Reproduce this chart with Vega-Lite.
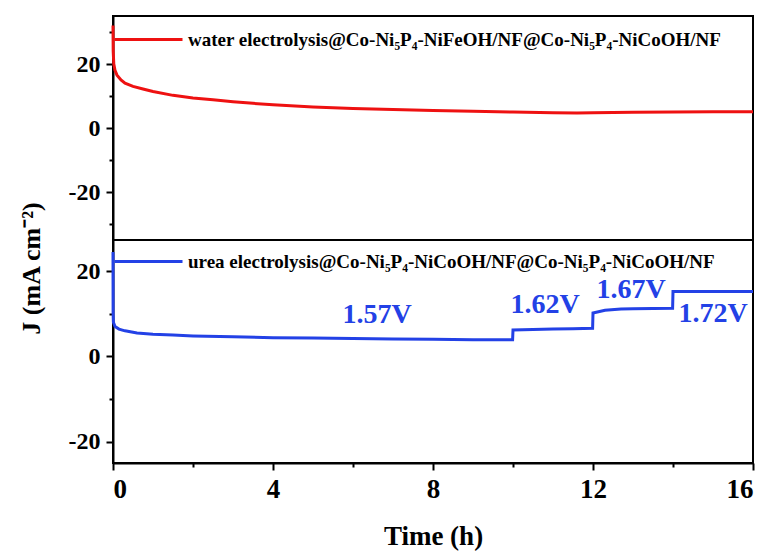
{
  "$schema": "https://vega.github.io/schema/vega-lite/v6.json",
  "background": "white",
  "padding": {"left": 16, "top": 3, "right": 8, "bottom": 5},
  "bounds": "flush",
  "spacing": 0,
  "datasets": {
    "water": [
      {"t": 0, "J": 32, "series": "water electrolysis@Co-Ni₅P₄-NiFeOH/NF@Co-Ni₅P₄-NiCoOH/NF"},
      {"t": 0.005, "J": 24, "series": "water electrolysis@Co-Ni₅P₄-NiFeOH/NF@Co-Ni₅P₄-NiCoOH/NF"},
      {"t": 0.02, "J": 20, "series": "water electrolysis@Co-Ni₅P₄-NiFeOH/NF@Co-Ni₅P₄-NiCoOH/NF"},
      {"t": 0.05, "J": 18, "series": "water electrolysis@Co-Ni₅P₄-NiFeOH/NF@Co-Ni₅P₄-NiCoOH/NF"},
      {"t": 0.1, "J": 16.5, "series": "water electrolysis@Co-Ni₅P₄-NiFeOH/NF@Co-Ni₅P₄-NiCoOH/NF"},
      {"t": 0.2, "J": 15, "series": "water electrolysis@Co-Ni₅P₄-NiFeOH/NF@Co-Ni₅P₄-NiCoOH/NF"},
      {"t": 0.3, "J": 14, "series": "water electrolysis@Co-Ni₅P₄-NiFeOH/NF@Co-Ni₅P₄-NiCoOH/NF"},
      {"t": 0.5, "J": 13, "series": "water electrolysis@Co-Ni₅P₄-NiFeOH/NF@Co-Ni₅P₄-NiCoOH/NF"},
      {"t": 0.75, "J": 12.2, "series": "water electrolysis@Co-Ni₅P₄-NiFeOH/NF@Co-Ni₅P₄-NiCoOH/NF"},
      {"t": 1.0, "J": 11.4, "series": "water electrolysis@Co-Ni₅P₄-NiFeOH/NF@Co-Ni₅P₄-NiCoOH/NF"},
      {"t": 1.5, "J": 10.2, "series": "water electrolysis@Co-Ni₅P₄-NiFeOH/NF@Co-Ni₅P₄-NiCoOH/NF"},
      {"t": 2.0, "J": 9.4, "series": "water electrolysis@Co-Ni₅P₄-NiFeOH/NF@Co-Ni₅P₄-NiCoOH/NF"},
      {"t": 2.5, "J": 8.8, "series": "water electrolysis@Co-Ni₅P₄-NiFeOH/NF@Co-Ni₅P₄-NiCoOH/NF"},
      {"t": 3.0, "J": 8.2, "series": "water electrolysis@Co-Ni₅P₄-NiFeOH/NF@Co-Ni₅P₄-NiCoOH/NF"},
      {"t": 3.5, "J": 7.7, "series": "water electrolysis@Co-Ni₅P₄-NiFeOH/NF@Co-Ni₅P₄-NiCoOH/NF"},
      {"t": 4.0, "J": 7.3, "series": "water electrolysis@Co-Ni₅P₄-NiFeOH/NF@Co-Ni₅P₄-NiCoOH/NF"},
      {"t": 5.0, "J": 6.6, "series": "water electrolysis@Co-Ni₅P₄-NiFeOH/NF@Co-Ni₅P₄-NiCoOH/NF"},
      {"t": 6.0, "J": 6.1, "series": "water electrolysis@Co-Ni₅P₄-NiFeOH/NF@Co-Ni₅P₄-NiCoOH/NF"},
      {"t": 7.0, "J": 5.8, "series": "water electrolysis@Co-Ni₅P₄-NiFeOH/NF@Co-Ni₅P₄-NiCoOH/NF"},
      {"t": 8.0, "J": 5.5, "series": "water electrolysis@Co-Ni₅P₄-NiFeOH/NF@Co-Ni₅P₄-NiCoOH/NF"},
      {"t": 9.0, "J": 5.2, "series": "water electrolysis@Co-Ni₅P₄-NiFeOH/NF@Co-Ni₅P₄-NiCoOH/NF"},
      {"t": 10.0, "J": 5.0, "series": "water electrolysis@Co-Ni₅P₄-NiFeOH/NF@Co-Ni₅P₄-NiCoOH/NF"},
      {"t": 11.0, "J": 4.8, "series": "water electrolysis@Co-Ni₅P₄-NiFeOH/NF@Co-Ni₅P₄-NiCoOH/NF"},
      {"t": 11.6, "J": 4.7, "series": "water electrolysis@Co-Ni₅P₄-NiFeOH/NF@Co-Ni₅P₄-NiCoOH/NF"},
      {"t": 12.0, "J": 4.8, "series": "water electrolysis@Co-Ni₅P₄-NiFeOH/NF@Co-Ni₅P₄-NiCoOH/NF"},
      {"t": 13.0, "J": 4.9, "series": "water electrolysis@Co-Ni₅P₄-NiFeOH/NF@Co-Ni₅P₄-NiCoOH/NF"},
      {"t": 14.0, "J": 5.0, "series": "water electrolysis@Co-Ni₅P₄-NiFeOH/NF@Co-Ni₅P₄-NiCoOH/NF"},
      {"t": 15.0, "J": 5.1, "series": "water electrolysis@Co-Ni₅P₄-NiFeOH/NF@Co-Ni₅P₄-NiCoOH/NF"},
      {"t": 16.0, "J": 5.1, "series": "water electrolysis@Co-Ni₅P₄-NiFeOH/NF@Co-Ni₅P₄-NiCoOH/NF"}
    ],
    "urea": [
      {"t": 0, "J": 24.5, "series": "urea electrolysis@Co-Ni₅P₄-NiCoOH/NF@Co-Ni₅P₄-NiCoOH/NF"},
      {"t": 0.003, "J": 10, "series": "urea electrolysis@Co-Ni₅P₄-NiCoOH/NF@Co-Ni₅P₄-NiCoOH/NF"},
      {"t": 0.01, "J": 8, "series": "urea electrolysis@Co-Ni₅P₄-NiCoOH/NF@Co-Ni₅P₄-NiCoOH/NF"},
      {"t": 0.05, "J": 7, "series": "urea electrolysis@Co-Ni₅P₄-NiCoOH/NF@Co-Ni₅P₄-NiCoOH/NF"},
      {"t": 0.15, "J": 6.4, "series": "urea electrolysis@Co-Ni₅P₄-NiCoOH/NF@Co-Ni₅P₄-NiCoOH/NF"},
      {"t": 0.3, "J": 6.0, "series": "urea electrolysis@Co-Ni₅P₄-NiCoOH/NF@Co-Ni₅P₄-NiCoOH/NF"},
      {"t": 0.6, "J": 5.5, "series": "urea electrolysis@Co-Ni₅P₄-NiCoOH/NF@Co-Ni₅P₄-NiCoOH/NF"},
      {"t": 1.0, "J": 5.2, "series": "urea electrolysis@Co-Ni₅P₄-NiCoOH/NF@Co-Ni₅P₄-NiCoOH/NF"},
      {"t": 1.5, "J": 5.0, "series": "urea electrolysis@Co-Ni₅P₄-NiCoOH/NF@Co-Ni₅P₄-NiCoOH/NF"},
      {"t": 2.0, "J": 4.8, "series": "urea electrolysis@Co-Ni₅P₄-NiCoOH/NF@Co-Ni₅P₄-NiCoOH/NF"},
      {"t": 3.0, "J": 4.6, "series": "urea electrolysis@Co-Ni₅P₄-NiCoOH/NF@Co-Ni₅P₄-NiCoOH/NF"},
      {"t": 4.0, "J": 4.4, "series": "urea electrolysis@Co-Ni₅P₄-NiCoOH/NF@Co-Ni₅P₄-NiCoOH/NF"},
      {"t": 5.0, "J": 4.3, "series": "urea electrolysis@Co-Ni₅P₄-NiCoOH/NF@Co-Ni₅P₄-NiCoOH/NF"},
      {"t": 6.0, "J": 4.2, "series": "urea electrolysis@Co-Ni₅P₄-NiCoOH/NF@Co-Ni₅P₄-NiCoOH/NF"},
      {"t": 7.0, "J": 4.1, "series": "urea electrolysis@Co-Ni₅P₄-NiCoOH/NF@Co-Ni₅P₄-NiCoOH/NF"},
      {"t": 8.0, "J": 4.0, "series": "urea electrolysis@Co-Ni₅P₄-NiCoOH/NF@Co-Ni₅P₄-NiCoOH/NF"},
      {"t": 9.0, "J": 3.9, "series": "urea electrolysis@Co-Ni₅P₄-NiCoOH/NF@Co-Ni₅P₄-NiCoOH/NF"},
      {"t": 9.99, "J": 3.9, "series": "urea electrolysis@Co-Ni₅P₄-NiCoOH/NF@Co-Ni₅P₄-NiCoOH/NF"},
      {"t": 10.0, "J": 6.2, "series": "urea electrolysis@Co-Ni₅P₄-NiCoOH/NF@Co-Ni₅P₄-NiCoOH/NF"},
      {"t": 10.5, "J": 6.3, "series": "urea electrolysis@Co-Ni₅P₄-NiCoOH/NF@Co-Ni₅P₄-NiCoOH/NF"},
      {"t": 11.0, "J": 6.4, "series": "urea electrolysis@Co-Ni₅P₄-NiCoOH/NF@Co-Ni₅P₄-NiCoOH/NF"},
      {"t": 11.5, "J": 6.5, "series": "urea electrolysis@Co-Ni₅P₄-NiCoOH/NF@Co-Ni₅P₄-NiCoOH/NF"},
      {"t": 11.99, "J": 6.6, "series": "urea electrolysis@Co-Ni₅P₄-NiCoOH/NF@Co-Ni₅P₄-NiCoOH/NF"},
      {"t": 12.0, "J": 10.2, "series": "urea electrolysis@Co-Ni₅P₄-NiCoOH/NF@Co-Ni₅P₄-NiCoOH/NF"},
      {"t": 12.3, "J": 10.8, "series": "urea electrolysis@Co-Ni₅P₄-NiCoOH/NF@Co-Ni₅P₄-NiCoOH/NF"},
      {"t": 12.7, "J": 11.1, "series": "urea electrolysis@Co-Ni₅P₄-NiCoOH/NF@Co-Ni₅P₄-NiCoOH/NF"},
      {"t": 13.0, "J": 11.2, "series": "urea electrolysis@Co-Ni₅P₄-NiCoOH/NF@Co-Ni₅P₄-NiCoOH/NF"},
      {"t": 13.99, "J": 11.3, "series": "urea electrolysis@Co-Ni₅P₄-NiCoOH/NF@Co-Ni₅P₄-NiCoOH/NF"},
      {"t": 14.0, "J": 15.2, "series": "urea electrolysis@Co-Ni₅P₄-NiCoOH/NF@Co-Ni₅P₄-NiCoOH/NF"},
      {"t": 16.0, "J": 15.2, "series": "urea electrolysis@Co-Ni₅P₄-NiCoOH/NF@Co-Ni₅P₄-NiCoOH/NF"}
    ],
    "volts": [
      {"t": 6.6, "J": 9.8, "text": "1.57V"},
      {"t": 10.8, "J": 12.1, "text": "1.62V"},
      {"t": 12.95, "J": 15.6, "text": "1.67V"},
      {"t": 15.0, "J": 10.0, "text": "1.72V"}
    ]
  },
  "resolve": {"scale": {"color": "independent"}},
  "vconcat": [
    {
      "width": 640,
      "height": 224,
      "data": {"name": "water"},
      "mark": {"type": "line", "strokeWidth": 3},
      "encoding": {
        "x": {"field": "t", "type": "quantitative", "scale": {"domain": [0, 16], "nice": false, "zero": false}, "axis": null},
        "y": {
          "field": "J", "type": "quantitative",
          "scale": {"domain": [-35, 35], "nice": false, "zero": false},
          "axis": {
            "title": null,
            "values": [-30, -20, -10, 0, 10, 20, 30],
            "labelExpr": "datum.value % 20 === 0 ? '' + datum.value : ''",
            "tickSize": {"condition": {"test": "datum.value % 20 === 0", "value": 7}, "value": 4},
            "labelFontSize": 24,
            "labelPadding": 6
          }
        },
        "color": {
          "field": "series", "type": "nominal",
          "scale": {"range": ["#EE1111"]},
          "legend": {
            "orient": "none", "legendX": 0, "legendY": -12, "title": null,
            "symbolType": "stroke", "symbolSize": 4624, "symbolStrokeWidth": 3,
            "labelFont": "Liberation Serif", "labelFontWeight": "bold", "labelFontSize": 19,
            "labelColor": "black", "labelOffset": 4, "labelLimit": 800, "padding": 0
          }
        }
      }
    },
    {
      "width": 640,
      "height": 223,
      "layer": [
        {
          "data": {"name": "urea"},
          "mark": {"type": "line", "strokeWidth": 3},
          "encoding": {
            "x": {
              "field": "t", "type": "quantitative",
              "scale": {"domain": [0, 16], "nice": false, "zero": false},
              "axis": {
                "title": "Time (h)",
                "values": [0, 2, 4, 6, 8, 10, 12, 14, 16],
                "labelExpr": "datum.value % 4 === 0 ? '' + datum.value : ''",
                "tickSize": {"condition": {"test": "datum.value % 4 === 0", "value": 7}, "value": 4},
                "labelFontSize": 27,
                "labelPadding": 6,
                "titleFontSize": 27,
                "titlePadding": 21
              }
            },
            "y": {
              "field": "J", "type": "quantitative",
              "scale": {"domain": [-25, 27.3], "nice": false, "zero": false},
              "axis": {
                "title": "J (mA cm⁻²)",
                "titleFontSize": 26,
                "titleAngle": -90,
                "titleAlign": "center",
                "titleBaseline": "middle",
                "titleX": -82,
                "titleY": 28,
                "values": [-20, -10, 0, 10, 20],
                "labelExpr": "datum.value % 20 === 0 ? '' + datum.value : ''",
                "tickSize": {"condition": {"test": "datum.value % 20 === 0", "value": 7}, "value": 4},
                "labelFontSize": 24,
                "labelPadding": 6
              }
            },
            "color": {
              "field": "series", "type": "nominal",
              "scale": {"range": ["#2341E6"]},
              "legend": {
                "orient": "none", "legendX": 0, "legendY": -14, "title": null,
                "symbolType": "stroke", "symbolSize": 4624, "symbolStrokeWidth": 3,
                "labelFont": "Liberation Serif", "labelFontWeight": "bold", "labelFontSize": 19,
                "labelColor": "black", "labelOffset": 4, "labelLimit": 800, "padding": 0
              }
            }
          }
        },
        {
          "data": {"name": "volts"},
          "mark": {"type": "text", "font": "Liberation Serif", "fontWeight": "bold", "fontSize": 28, "color": "#2341E6", "align": "center", "baseline": "middle"},
          "encoding": {
            "x": {"field": "t", "type": "quantitative"},
            "y": {"field": "J", "type": "quantitative"},
            "text": {"field": "text"}
          }
        }
      ]
    }
  ],
  "config": {
    "font": "Liberation Serif",
    "view": {"stroke": "black", "strokeWidth": 2},
    "axis": {
      "grid": false,
      "domainColor": "black", "domainWidth": 2,
      "tickColor": "black", "tickWidth": 2,
      "labelFont": "Liberation Serif", "labelFontWeight": "bold", "labelColor": "black",
      "titleFont": "Liberation Serif", "titleFontWeight": "bold", "titleColor": "black"
    }
  }
}
